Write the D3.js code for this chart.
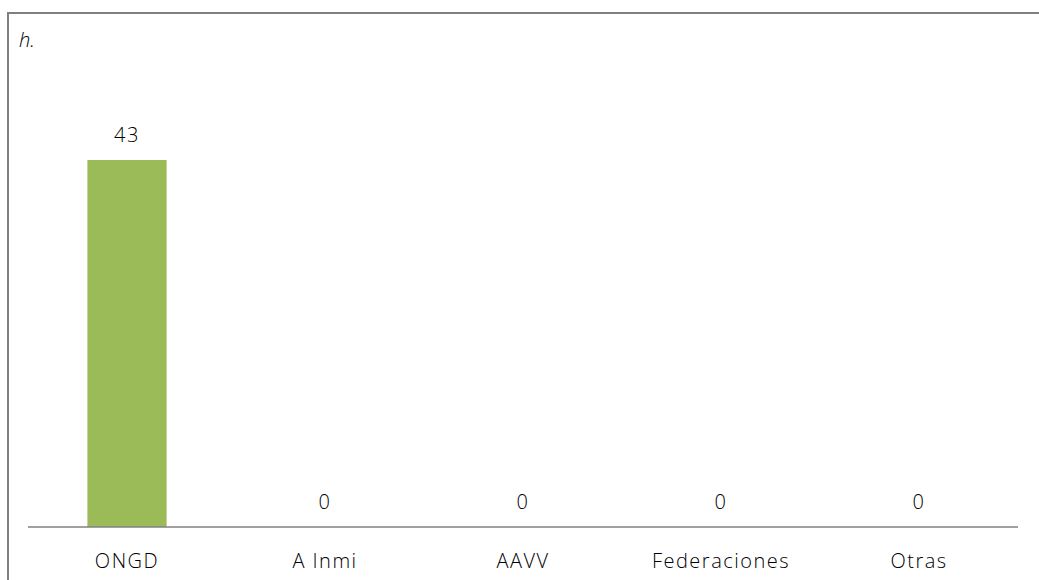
<!DOCTYPE html>
<html><head><meta charset="utf-8">
<script src="https://cdn.jsdelivr.net/npm/d3@7"></script>
<style>html,body{margin:0;padding:0;background:#fff;}svg{display:block;}</style>
</head><body>
<script>
const categories = ["ONGD", "A Inmi", "AAVV", "Federaciones", "Otras"];
const values = [43, 0, 0, 0, 0];
const titleText = "h.";

const W = 1039, H = 580;
const FONT = "Open Sans";
const svg = d3.select("body").append("svg").attr("width", W).attr("height", H);

// frame
svg.append("path").attr("d", `M8,${H+5} V13 H${W+5}`).attr("fill","none").attr("stroke","#808080").attr("stroke-width",2);

svg.append("text").attr("x", 19).attr("y", 47).attr("font-family",FONT).attr("font-style","italic")
  .attr("font-weight",300).attr("font-size", 20).attr("fill","#000").text(titleText);

const x = d3.scaleBand().domain(categories).range([28, 1018]).paddingInner(0.6).paddingOuter(0.3);
const y = d3.scaleLinear().domain([0, 43]).range([527, 160]);

svg.selectAll("rect.bar").data(values).join("rect").attr("class","bar")
  .attr("x", (d,i)=>x(categories[i])).attr("width", x.bandwidth())
  .attr("y", d=>y(d)).attr("height", d=>y(0)-y(d)).attr("fill","#9bbb59");

svg.selectAll("text.val").data(values).join("text").attr("class","val")
  .attr("x",(d,i)=>x(categories[i])+x.bandwidth()/2).attr("y", d=>y(d)-18)
  .attr("text-anchor","middle").attr("font-family",FONT).attr("font-weight",300).attr("font-size",20)
  .attr("letter-spacing",1.5).attr("fill","#000")
  .text(d=>d);

const axis = d3.axisBottom(x).tickSize(0).tickPadding(27);
const g = svg.append("g").attr("transform","translate(0,527)").call(axis);
g.select(".domain").attr("stroke","#808080").attr("stroke-width",1.5).attr("d","M28,0H1018");
g.selectAll("text").attr("font-family",FONT).attr("font-weight",300).attr("font-size",20)
  .attr("letter-spacing",1.5).attr("fill","#000");
</script>
</body></html>
